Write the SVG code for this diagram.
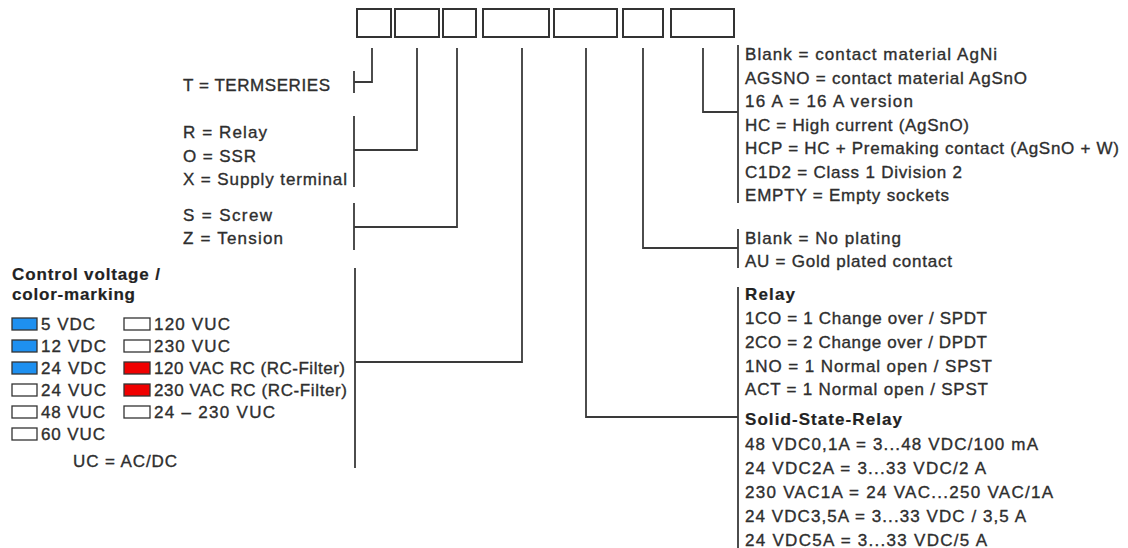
<svg xmlns="http://www.w3.org/2000/svg" width="1128" height="548" viewBox="0 0 1128 548">
<style>
.bg{fill:#ffffff}
.box{fill:#ffffff;stroke:#333333;stroke-width:2}
.ln{fill:none;stroke:#3a3a3a;stroke-width:1.8}
text{font-family:"Liberation Sans",Arial,sans-serif;font-size:17px;fill:#2e2e2e;stroke:#2e2e2e;stroke-width:0.35}
.b{font-weight:bold;fill:#222222;stroke:#222222;stroke-width:0.2}
.sw{stroke:#333333;stroke-width:1.3}
.blue{fill:#1e90f0}
.red{fill:#f00000}
.white{fill:#ffffff}
</style>
<rect class="bg" x="0" y="0" width="1128" height="548"/>
<g id="code-boxes">
<rect class="box" x="357" y="9" width="34" height="28"/>
<rect class="box" x="395" y="9" width="44" height="28"/>
<rect class="box" x="443" y="9" width="33" height="28"/>
<rect class="box" x="483" y="9" width="66" height="28"/>
<rect class="box" x="554" y="9" width="63" height="28"/>
<rect class="box" x="623" y="9" width="40" height="28"/>
<rect class="box" x="671" y="9" width="63" height="28"/>
</g>
<g id="connectors">
<path class="ln" d="M372,48 V82 H354 M354,71 V93"/>
<path class="ln" d="M417,48 V150 H354 M354,116 V187"/>
<path class="ln" d="M457,48 V227 H354 M354,203 V250"/>
<path class="ln" d="M522,48 V362 H355 M355,268 V468"/>
<path class="ln" d="M586,48 V417 H738 M738,287 V548"/>
<path class="ln" d="M643,48 V248 H738 M738,229 V268"/>
<path class="ln" d="M703,48 V112 H738 M738,45 V203"/>
</g>
<g id="series">
<text x="183" y="91" textLength="147">T = TERMSERIES</text>
</g>
<g id="type">
<text x="183" y="138" textLength="84">R = Relay</text>
<text x="183" y="161.5" textLength="73">O = SSR</text>
<text x="183" y="185" textLength="164">X = Supply terminal</text>
</g>
<g id="connection">
<text x="183" y="221" textLength="89">S = Screw</text>
<text x="183" y="244" textLength="100">Z = Tension</text>
</g>
<g id="control-voltage">
<text class="b" x="12" y="280" textLength="148">Control voltage /</text>
<text class="b" x="12" y="300" textLength="123">color-marking</text>
<rect class="sw blue" x="12" y="318" width="25" height="12"/>
<rect class="sw blue" x="12" y="340" width="25" height="12"/>
<rect class="sw blue" x="12" y="362" width="25" height="12"/>
<rect class="sw white" x="12" y="384" width="25" height="12"/>
<rect class="sw white" x="12" y="406" width="25" height="12"/>
<rect class="sw white" x="12" y="428" width="25" height="12"/>
<text x="41" y="330" textLength="54">5 VDC</text>
<text x="41" y="352" textLength="65">12 VDC</text>
<text x="41" y="374" textLength="65">24 VDC</text>
<text x="41" y="396" textLength="65">24 VUC</text>
<text x="41" y="418" textLength="64">48 VUC</text>
<text x="41" y="440" textLength="64">60 VUC</text>
<rect class="sw white" x="124" y="318" width="26" height="12"/>
<rect class="sw white" x="124" y="340" width="26" height="12"/>
<rect class="sw red" x="124" y="362" width="26" height="12"/>
<rect class="sw red" x="124" y="384" width="26" height="12"/>
<rect class="sw white" x="124" y="406" width="26" height="12"/>
<text x="154" y="330" textLength="76">120 VUC</text>
<text x="154" y="352" textLength="76">230 VUC</text>
<text x="154" y="374" textLength="191">120 VAC RC (RC-Filter)</text>
<text x="154" y="396" textLength="193">230 VAC RC (RC-Filter)</text>
<text x="154" y="418" textLength="121">24 – 230 VUC</text>
<text x="73" y="467" textLength="104">UC = AC/DC</text>
</g>
<g id="contact-material">
<text x="745" y="60" textLength="252">Blank = contact material AgNi</text>
<text x="745" y="83.5" textLength="282">AGSNO = contact material AgSnO</text>
<text x="745" y="107" textLength="168">16 A = 16 A version</text>
<text x="745" y="130.5" textLength="224">HC = High current (AgSnO)</text>
<text x="745" y="154" textLength="374">HCP = HC + Premaking contact (AgSnO + W)</text>
<text x="745" y="177.5" textLength="217">C1D2 = Class 1 Division 2</text>
<text x="745" y="201" textLength="204">EMPTY = Empty sockets</text>
</g>
<g id="plating">
<text x="745" y="244" textLength="156">Blank = No plating</text>
<text x="745" y="267" textLength="207">AU = Gold plated contact</text>
</g>
<g id="contacts">
<text class="b" x="745" y="300" textLength="50">Relay</text>
<text x="745" y="324" textLength="242">1CO = 1 Change over / SPDT</text>
<text x="745" y="348" textLength="242">2CO = 2 Change over / DPDT</text>
<text x="745" y="371.5" textLength="247">1NO = 1 Normal open / SPST</text>
<text x="745" y="395" textLength="243">ACT = 1 Normal open / SPST</text>
<text class="b" x="745" y="425" textLength="157">Solid-State-Relay</text>
<text x="745" y="450" textLength="293">48 VDC0,1A = 3...48 VDC/100 mA</text>
<text x="745" y="474" textLength="241">24 VDC2A = 3...33 VDC/2 A</text>
<text x="745" y="498" textLength="308">230 VAC1A = 24 VAC...250 VAC/1A</text>
<text x="745" y="522" textLength="281">24 VDC3,5A = 3...33 VDC / 3,5 A</text>
<text x="745" y="546" textLength="242">24 VDC5A = 3...33 VDC/5 A</text>
</g>
</svg>
